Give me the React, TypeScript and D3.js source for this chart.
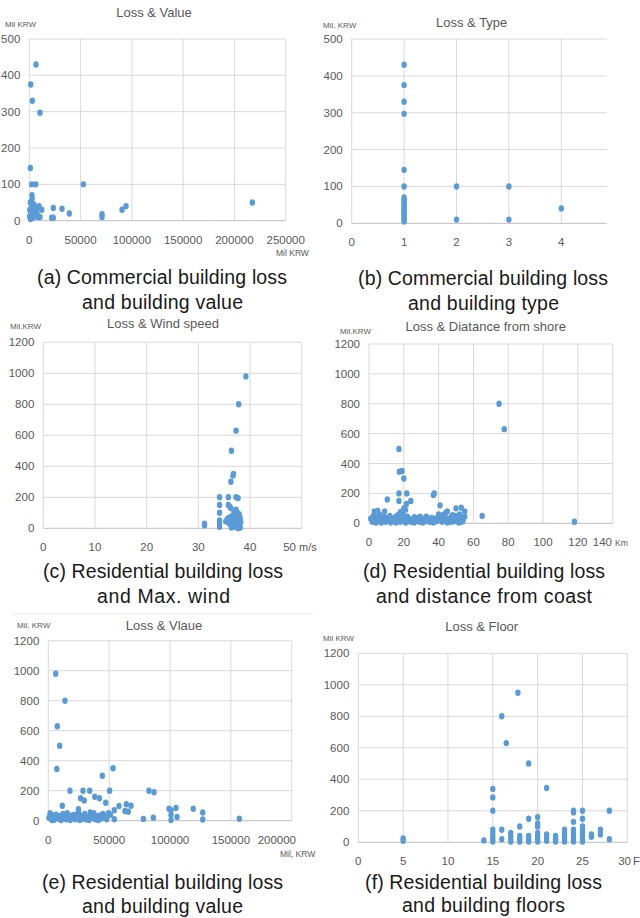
import React from "react";
import * as d3 from "d3";

// ---- (a) commercial: building value (Mil KRW) vs loss (Mil KRW)
const comValue = [6500, 1400, 2900, 10400, 1000, 2300, 6200, 52700, 2600, 2800, 1000, 217500, 94300, 90400, 23400, 31900, 39000, 70900, 70900, 21800, 23400, 12100, 9500, 10400, 500, 1500, 3000, 4000, 5000, 6000, 7500, 8000, 2000, 1200, 3500, 4500, 6800, 300, 2200, 5500];
const comValueLoss = [430, 375, 330, 297, 145, 100, 100, 100, 70, 60, 50, 50, 40, 30, 35, 33, 20, 18, 10, 8, 8, 30, 40, 10, 30, 20, 40, 25, 15, 35, 20, 10, 10, 5, 8, 45, 30, 12, 38, 22];

// ---- (b) commercial: building type vs loss
const comType = [1, 1, 1, 1, 1, 1, 1, 1, 1, 1, 1, 1, 1, 1, 1, 1, 1, 1, 1, 1, 2, 2, 3, 3, 4];
const comTypeLoss = [430, 375, 330, 297, 145, 100, 70, 65, 60, 55, 50, 45, 40, 35, 30, 25, 20, 15, 10, 5, 100, 10, 100, 10, 40];

// ---- (c) residential: max wind speed (m/s) vs loss
const resWind = [39.2, 37.8, 37.3, 36.4, 36.8, 36.7, 36.3, 34.1, 35.8, 37.3, 37.7, 34.1, 35.8, 36.1, 36.3, 34.1, 37.3, 37.6, 37.9, 31.2, 31.2, 34.1, 34.1, 34.1, 35.3, 35.6, 36.0, 36.3, 36.4, 36.6, 36.8, 37.0, 37.1, 37.3, 37.5, 37.6, 37.8, 38.0, 38.1, 38.2, 36.9, 37.2, 38.0, 37.7, 36.5, 35.9, 37.4, 38.1, 36.2, 37.0];
const resWindLoss = [980, 800, 630, 500, 350, 340, 300, 200, 200, 200, 195, 150, 150, 140, 130, 100, 120, 100, 90, 30, 20, 50, 30, 10, 45, 60, 70, 20, 5, 80, 40, 60, 10, 30, 70, 15, 50, 25, 5, 40, 100, 90, 80, 0, 55, 35, 45, 60, 40, 20];

// ---- (d) residential: distance from shore (km) vs loss
const resDist = [74.7, 77.7, 118, 65, 17.2, 17.4, 19, 20, 17.2, 21.7, 17.2, 24, 21.5, 10.5, 37, 37.5, 40.8, 50, 53, 55, 45, 20, 3, 5, 9, 53, 53,
  1, 2, 2.5, 3.5, 4, 4.5, 5.5, 6, 6.5, 7, 8, 8.5, 9.5, 10, 11, 12, 12.5, 13, 14, 15, 15.5, 16, 16.5, 18, 18.5, 19, 19.5, 20.5, 21, 22, 22.5, 23, 24, 25, 26, 27, 28, 29, 29.5, 30, 31, 32, 33, 34, 35, 36, 37, 38, 39, 40, 40.5, 41, 42, 42.5, 43, 44, 45, 46, 47, 47.5, 48, 49, 49.5, 50, 51, 51.5, 52, 53.5, 54, 55, 18, 21, 26, 33, 36, 44, 48];
const resDistLoss = [800, 630, 10, 50, 497, 345, 350, 300, 200, 200, 150, 150, 130, 160, 190, 200, 120, 100, 105, 80, 80, 100, 80, 85, 80, 40, 10,
  30, 10, 50, 20, 5, 40, 15, 60, 30, 5, 25, 45, 10, 35, 20, 50, 5, 30, 15, 40, 5, 25, 55, 10, 40, 20, 60, 30, 5, 45, 15, 30, 10, 25, 5, 20, 35, 10, 45, 20, 5, 30, 15, 25, 10, 20, 5, 30, 15, 60, 25, 40, 10, 55, 20, 35, 5, 25, 40, 10, 30, 15, 50, 20, 35, 5, 60, 25, 15, 45, 75, 90, 40, 45, 35, 70, 55];

// ---- (e) residential: building value (Mil KRW) vs loss
const resValue = [6100, 13700, 7400, 9300, 7000, 44400, 53200, 17800, 28500, 34000, 50400, 82700, 86900, 26500, 29500, 38200, 42000, 47200, 11500, 24700, 58100, 64100, 68000, 99200, 104900, 119100, 126900, 100800, 105800, 126900, 157000, 78100, 86300, 54200, 54200, 63000, 65700, 100800, 100800,
  500, 1500, 2500, 3500, 4500, 5500, 6500, 8000, 9000, 10500, 12000, 13000, 14500, 15500, 16500, 18000, 19500, 20500, 21500, 22500, 23500, 25000, 26000, 27500, 28500, 30000, 31000, 32500, 33500, 35000, 36000, 37500, 38500, 40000, 41000, 42500, 43500, 45000, 46500, 48000, 49500, 51000, 3000, 16000, 34500, 44000];
const resValueLoss = [980, 800, 630, 500, 345, 300, 350, 200, 200, 200, 200, 200, 190, 150, 135, 160, 150, 120, 100, 76, 98, 110, 100, 80, 85, 80, 55, 70, 25, 8, 13, 12, 20, 70, 10, 65, 60, 40, 5,
  20, 50, 10, 35, 5, 25, 40, 15, 30, 5, 45, 20, 10, 50, 25, 5, 35, 15, 40, 10, 20, 55, 5, 30, 15, 45, 10, 25, 5, 40, 20, 50, 10, 30, 5, 35, 15, 45, 25, 10, 50, 40, 5, 30, 55, 20];

// ---- (f) residential: number of floors vs loss
const resFloor = [5, 5, 14, 15, 15, 15, 15, 15, 15, 15, 15, 16, 16.5, 17.8, 19, 21,
  16, 16, 17, 17, 17, 17, 18, 18, 18, 18, 19, 19, 19, 19,
  20, 20, 20, 20, 20, 20, 20, 21, 21, 21, 22, 22, 22,
  23, 23, 23, 23, 23, 24, 24, 24, 24, 24, 24, 24, 24,
  25, 25, 25, 25, 25, 25, 25, 25, 26, 26, 27, 27, 28, 28];
const resFloorLoss = [25, 10, 12, 339, 285, 200, 80, 60, 40, 20, 5, 800, 630, 950, 500, 345,
  80, 20, 60, 40, 20, 5, 100, 40, 20, 5, 150, 40, 20, 5,
  160, 120, 100, 60, 40, 20, 5, 50, 30, 10, 40, 20, 5,
  80, 60, 40, 20, 5, 200, 190, 130, 80, 60, 40, 20, 5,
  200, 150, 100, 80, 60, 40, 20, 5, 50, 35, 80, 50, 200, 20];

// ---- tick values
const ticksComValue = [0, 50000, 100000, 150000, 200000, 250000];
const ticksComType = [0, 1, 2, 3, 4];
const ticksWind = [0, 10, 20, 30, 40, 50];
const ticksDist = [0, 20, 40, 60, 80, 100, 120, 140];
const ticksResValue = [0, 50000, 100000, 150000, 200000];
const ticksFloor = [0, 5, 10, 15, 20, 25, 30];
const ticksLoss500 = [0, 100, 200, 300, 400, 500];
const ticksLoss1200 = [0, 200, 400, 600, 800, 1000, 1200];

const DOT = "#5b9bd5";
const GRID = "#d9d9d9";
const TICK_TEXT = "#595959";
const NARROW = "'Liberation Sans Narrow', 'Arial Narrow', 'Liberation Sans', sans-serif";
const CAPTION_FONT = "'Liberation Sans', 'DejaVu Sans', sans-serif";

type Caption = { text: string; x0: number; x1: number; y: number };

type PanelProps = {
  box: { left: number; right: number; top: number; bottom: number };
  xDomain: [number, number];
  yDomain: [number, number];
  xTicks: number[];
  yTicks: number[];
  xs: number[];
  ys: number[];
  title: { text: string; x: number; y: number };
  yUnit: { text: string; x: number; y: number };
  xUnit?: { text: string; x: number; y: number; size?: number };
  lastTickEnd?: number;
  captions: Caption[];
};

function Panel(p: PanelProps) {
  const x = d3.scaleLinear().domain(p.xDomain).range([p.box.left, p.box.right]);
  const y = d3.scaleLinear().domain(p.yDomain).range([p.box.bottom, p.box.top]);
  const fmt = d3.format("d");
  return (
    <g>
      {p.yTicks.map((t) => (
        <line key={"gy" + t} x1={p.box.left} x2={p.box.right} y1={y(t)} y2={y(t)}
          stroke={t === 0 ? "#bfbfbf" : GRID} strokeWidth={1} />
      ))}
      {p.xTicks.map((t) => (
        <line key={"gx" + t} x1={x(t)} x2={x(t)} y1={p.box.top} y2={p.box.bottom}
          stroke={GRID} strokeWidth={1} />
      ))}
      {p.yTicks.map((t) => (
        <text key={"ty" + t} x={p.box.left - 9} y={y(t)} dy="0.35em" textAnchor="end"
          fontFamily={NARROW} fontSize={11.5} fill={TICK_TEXT}>{fmt(t)}</text>
      ))}
      {p.xTicks.map((t, i) => {
        const last = i === p.xTicks.length - 1 && p.lastTickEnd !== undefined;
        return (
          <text key={"tx" + t} x={last ? p.lastTickEnd : x(t)} y={p.box.bottom + 23}
            textAnchor={last ? "end" : "middle"}
            fontFamily={NARROW} fontSize={11.5} fill={TICK_TEXT}>{fmt(t)}</text>
        );
      })}
      {p.xs.map((v, i) => (
        <ellipse key={"pt" + i} cx={x(v)} cy={y(p.ys[i])} rx={2.7} ry={3.2} fill={DOT} />
      ))}
      <text x={p.title.x} y={p.title.y} textAnchor="middle" fontFamily={NARROW}
        fontSize={13} fill={TICK_TEXT}>{p.title.text}</text>
      <text x={p.yUnit.x} y={p.yUnit.y} fontFamily={NARROW} fontSize={8}
        fill={TICK_TEXT}>{p.yUnit.text}</text>
      {p.xUnit && (
        <text x={p.xUnit.x} y={p.xUnit.y} fontFamily={NARROW} fontSize={p.xUnit.size ?? 8.5}
          fill={TICK_TEXT}>{p.xUnit.text}</text>
      )}
      {p.captions.map((c, i) => (
        <text key={"cap" + i} x={c.x0} y={c.y} textLength={c.x1 - c.x0}
          lengthAdjust="spacing" fontFamily={CAPTION_FONT} fontSize={19.5}
          fill="#1a1a1a">{c.text}</text>
      ))}
    </g>
  );
}

export default function App() {
  return (
    <svg width={640} height={918} viewBox="0 0 640 918"
      style={{ position: "absolute", left: 0, top: 0, background: "#fff" }}>
      <rect width={640} height={918} fill="#fff" />
      {/* (a) */}
      <Panel
        box={{ left: 29.3, right: 285.7, top: 39, bottom: 220.7 }}
        xDomain={[0, 250000]} yDomain={[0, 500]}
        xTicks={ticksComValue} yTicks={ticksLoss500}
        xs={comValue} ys={comValueLoss}
        title={{ text: "Loss & Value", x: 154, y: 17 }}
        yUnit={{ text: "Mil KRW", x: 5, y: 26.5 }}
        xUnit={{ text: "Mil KRW", x: 276, y: 256 }}
        captions={[
          { text: "(a) Commercial building loss", x0: 37, x1: 287, y: 284 },
          { text: "and building value", x0: 82, x1: 243, y: 309 },
        ]}
      />
      {/* (b) */}
      <Panel
        box={{ left: 351.7, right: 606.7, top: 39, bottom: 223.3 }}
        xDomain={[0, 4.866]} yDomain={[0, 500]}
        xTicks={ticksComType} yTicks={ticksLoss500}
        xs={comType} ys={comTypeLoss}
        title={{ text: "Loss & Type", x: 471.7, y: 27 }}
        yUnit={{ text: "Mil, KRW", x: 323, y: 28 }}
        captions={[
          { text: "(b) Commercial building loss", x0: 358, x1: 608, y: 285 },
          { text: "and building type", x0: 408, x1: 559, y: 310 },
        ]}
      />
      {/* (c) */}
      <Panel
        box={{ left: 43.3, right: 301.7, top: 342.3, bottom: 528.3 }}
        xDomain={[0, 50]} yDomain={[0, 1200]}
        xTicks={ticksWind} yTicks={ticksLoss1200}
        xs={resWind} ys={resWindLoss}
        lastTickEnd={296}
        title={{ text: "Loss & Wind speed", x: 163, y: 328 }}
        yUnit={{ text: "Mil,KRW", x: 10, y: 329 }}
        xUnit={{ text: "m/s", x: 299, y: 551, size: 11 }}
        captions={[
          { text: "(c) Residential building loss", x0: 43, x1: 283, y: 578 },
          { text: "and Max. wind", x0: 97, x1: 230, y: 603 },
        ]}
      />
      {/* (d) */}
      <Panel
        box={{ left: 369, right: 612.7, top: 344, bottom: 523.3 }}
        xDomain={[0, 140]} yDomain={[0, 1200]}
        xTicks={ticksDist} yTicks={ticksLoss1200}
        xs={resDist} ys={resDistLoss}
        lastTickEnd={612}
        title={{ text: "Loss & Diatance from shore", x: 485.7, y: 331 }}
        yUnit={{ text: "Mil.KRW", x: 340, y: 334 }}
        xUnit={{ text: "Km", x: 615, y: 546 }}
        captions={[
          { text: "(d) Residential building loss", x0: 363, x1: 605, y: 578 },
          { text: "and distance from coast", x0: 376, x1: 592, y: 603 },
        ]}
      />
      {/* separator above (e) */}
      <line x1={13} x2={313} y1={614} y2={614} stroke="#e6e6e6" strokeWidth={1} />
      {/* (e) */}
      <Panel
        box={{ left: 48.3, right: 291.7, top: 640.7, bottom: 820.7 }}
        xDomain={[0, 200000]} yDomain={[0, 1200]}
        xTicks={ticksResValue} yTicks={ticksLoss1200}
        xs={resValue} ys={resValueLoss}
        lastTickEnd={296}
        title={{ text: "Loss & Vlaue", x: 164, y: 630 }}
        yUnit={{ text: "Mil, KRW", x: 17, y: 628 }}
        xUnit={{ text: "Mil, KRW", x: 280, y: 857 }}
        captions={[
          { text: "(e) Residential building loss", x0: 42, x1: 283, y: 889 },
          { text: "and building value", x0: 82, x1: 243, y: 913 },
        ]}
      />
      {/* (f) */}
      <Panel
        box={{ left: 358.3, right: 627.3, top: 653.3, bottom: 842.3 }}
        xDomain={[0, 30]} yDomain={[0, 1200]}
        xTicks={ticksFloor} yTicks={ticksLoss1200}
        xs={resFloor} ys={resFloorLoss}
        lastTickEnd={631}
        title={{ text: "Loss & Floor", x: 481.7, y: 631 }}
        yUnit={{ text: "Mil KRW", x: 323, y: 641 }}
        xUnit={{ text: "F", x: 633, y: 865, size: 11.5 }}
        captions={[
          { text: "(f) Residential building loss", x0: 365, x1: 602, y: 889 },
          { text: "and building floors", x0: 402, x1: 565, y: 912 },
        ]}
      />
    </svg>
  );
}
